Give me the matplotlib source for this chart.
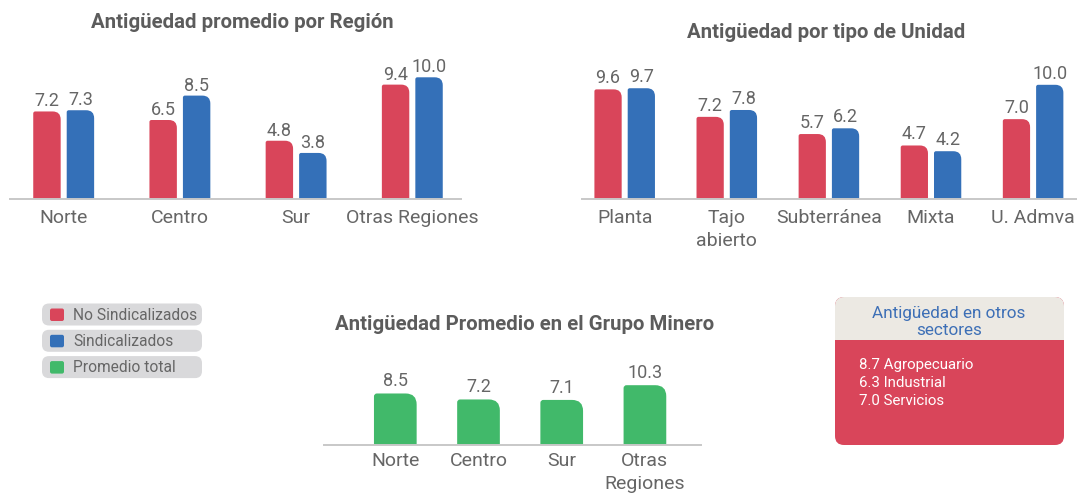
import matplotlib
matplotlib.use("Agg")
import matplotlib.pyplot as plt
from matplotlib.path import Path
from matplotlib.patches import PathPatch, FancyBboxPatch, Rectangle

plt.rcParams['font.family'] = ['Roboto', 'DejaVu Sans']

# ---- data ----
regiones = ["Norte", "Centro", "Sur", "Otras Regiones"]
reg_no_sind = [7.2, 6.5, 4.8, 9.4]
reg_sind = [7.3, 8.5, 3.8, 10.0]

unidades = ["Planta", "Tajo\nabierto", "Subterránea", "Mixta", "U. Admva"]
uni_no_sind = [9.6, 7.2, 5.7, 4.7, 7.0]
uni_sind = [9.7, 7.8, 6.2, 4.2, 10.0]

grupo_cats = ["Norte", "Centro", "Sur", "Otras\nRegiones"]
grupo_total = [8.5, 7.2, 7.1, 10.3]

legend_labels = ["No Sindicalizados", "Sindicalizados", "Promedio total"]
otros_titulo = "Antigüedad en otros\nsectores"
otros_sectores = ["Agropecuario", "Industrial", "Servicios"]
otros_valores = [8.7, 6.3, 7.0]

RED = "#d9455a"
BLUE = "#3470b8"
GREEN = "#41b96a"
GRAY_TXT = "#5c5c5c"
LIGHT_TXT = "#666666"
W, H = 1077, 494

fig = plt.figure(figsize=(W / 100, H / 100), dpi=100)
fig.patch.set_facecolor("white")


def px_axes(left, right, top, bottom):
    # axes placed by pixel box (y measured from top)
    return fig.add_axes([left / W, 1 - bottom / H, (right - left) / W, (bottom - top) / H])


def round_top(ax, rect, color, r_left, r_right):
    x0, y0 = rect.get_x(), rect.get_y()
    x1, y1 = x0 + rect.get_width(), y0 + rect.get_height()
    xl, xr = ax.get_xlim()
    yb, yt = ax.get_ylim()
    sx = ax.bbox.width / (xr - xl)
    sy = ax.bbox.height / (yt - yb)
    verts = [(x0, y0), (x0, y1 - r_left / sy), (x0, y1), (x0 + r_left / sx, y1),
             (x1 - r_right / sx, y1), (x1, y1), (x1, y1 - r_right / sy), (x1, y0), (x0, y0)]
    codes = [Path.MOVETO, Path.LINETO, Path.CURVE3, Path.CURVE3, Path.LINETO,
             Path.CURVE3, Path.CURVE3, Path.LINETO, Path.CLOSEPOLY]
    ax.add_patch(PathPatch(Path(verts, codes), facecolor=color, edgecolor="none"))
    rect.set_visible(False)


def style(ax, labels, pad):
    for s in ["top", "left", "right"]:
        ax.spines[s].set_visible(False)
    ax.spines["bottom"].set_color("#c8c8c8")
    ax.spines["bottom"].set_linewidth(1.4)
    ax.set_yticks([])
    ax.set_xticks(range(len(labels)))
    ax.set_xticklabels(labels, fontsize=14, color=LIGHT_TXT, linespacing=1.35)
    ax.tick_params(axis="x", length=0, pad=pad)
    ax.patch.set_alpha(0)


def label_bars(ax, bars, vals, off):
    for b, v in zip(bars, vals):
        ax.annotate(f"{v:.1f}", (b.get_x() + b.get_width() / 2, b.get_y() + b.get_height()),
                    xytext=(0, off), textcoords="offset pixels", ha="center", va="baseline",
                    fontsize=13, color=LIGHT_TXT, annotation_clip=False)


def grouped(ax, cats, a, b, width, offset, r1, r2, off):
    x = range(len(cats))
    ba = ax.bar([i - offset for i in x], a, width, color=RED)
    bb = ax.bar([i + offset for i in x], b, width, color=BLUE)
    for bars in (ba, bb):
        for r in bars:
            round_top(ax, r, r.get_facecolor(), r1, r2)
    label_bars(ax, ba, a, off)
    label_bars(ax, bb, b, off)


# ---- chart 1: region ----
ax1 = px_axes(10, 461, 59, 199.3)
ax1.set_xlim(-0.462, 3.419)
ax1.set_ylim(0, 140.3 / 12.2)
grouped(ax1, regiones, reg_no_sind, reg_sind, 0.236, 0.144, 2, 8, 5)
style(ax1, regiones, 7)
fig.text(242 / W, 1 - 22 / H, "Antigüedad promedio por Región", ha="center", va="center",
         fontsize=14.7, fontweight="bold", color=GRAY_TXT)

# ---- chart 2: unidad ----
ax2 = px_axes(581.7, 1077, 67, 199.3)
ax2.set_xlim(-0.421, 4.43)
ax2.set_ylim(0, 132.3 / 11.45)
grouped(ax2, unidades, uni_no_sind, uni_sind, 0.267, 0.163, 2, 8, 6)
style(ax2, unidades, 7)
fig.text(826 / W, 1 - 33 / H, "Antigüedad por tipo de Unidad", ha="center", va="center",
         fontsize=14.7, fontweight="bold", color=GRAY_TXT)

# ---- chart 3: grupo minero ----
y_floor = -2.7
ax3 = px_axes(324, 701, 378, 445)
ax3.set_xlim(-0.857, 3.674)
ax3.set_ylim(y_floor, y_floor + 67 / 4.6)
b3 = ax3.bar(range(len(grupo_cats)), [v - y_floor for v in grupo_total], 0.513,
             bottom=y_floor, color=GREEN)
for r in b3:
    round_top(ax3, r, GREEN, 3, 11)
label_bars(ax3, b3, grupo_total, 7)
style(ax3, grupo_cats, 5)
fig.text(525 / W, 1 - 324 / H, "Antigüedad Promedio en el Grupo Minero", ha="center", va="center",
         fontsize=14.7, fontweight="bold", color=GRAY_TXT)

# ---- overlay for legend and info box (pixel coords) ----
ov = fig.add_axes([0, 0, 1, 1])
ov.set_xlim(0, W)
ov.set_ylim(H, 0)
ov.axis("off")
ov.patch.set_alpha(0)

for i, (lab, col) in enumerate(zip(legend_labels, [RED, BLUE, GREEN])):
    top = 303.5 + i * 26.3
    ov.add_patch(FancyBboxPatch((42, top), 160, 22, boxstyle="round,pad=0,rounding_size=7",
                                facecolor="#d9d9db", edgecolor="none"))
    ov.add_patch(FancyBboxPatch((50, top + 5), 14, 12.5, boxstyle="round,pad=0,rounding_size=2",
                                facecolor=col, edgecolor="none"))
    ov.text(73, top + 11.5, lab, ha="left", va="center", fontsize=11.2, color=LIGHT_TXT)

# info box
ov.add_patch(FancyBboxPatch((835, 297), 229, 148, boxstyle="round,pad=0,rounding_size=9",
                            facecolor=RED, edgecolor="none"))
ov.add_patch(FancyBboxPatch((835, 297), 229, 43, boxstyle="round,pad=0,rounding_size=9",
                            facecolor="#ece9e3", edgecolor="none"))
ov.add_patch(Rectangle((835, 320), 229, 20, facecolor="#ece9e3", edgecolor="none"))
ov.text(949, 322, otros_titulo, ha="center", va="center", fontsize=12.3, color="#3d6fb6",
        linespacing=1.1)
body = "\n".join(f"{v:.1f} {s}" for v, s in zip(otros_valores, otros_sectores))
ov.text(859, 358, body, ha="left", va="top", fontsize=10.8, color="white", linespacing=1.35)

fig.savefig("out.png", dpi=100, facecolor="white")
